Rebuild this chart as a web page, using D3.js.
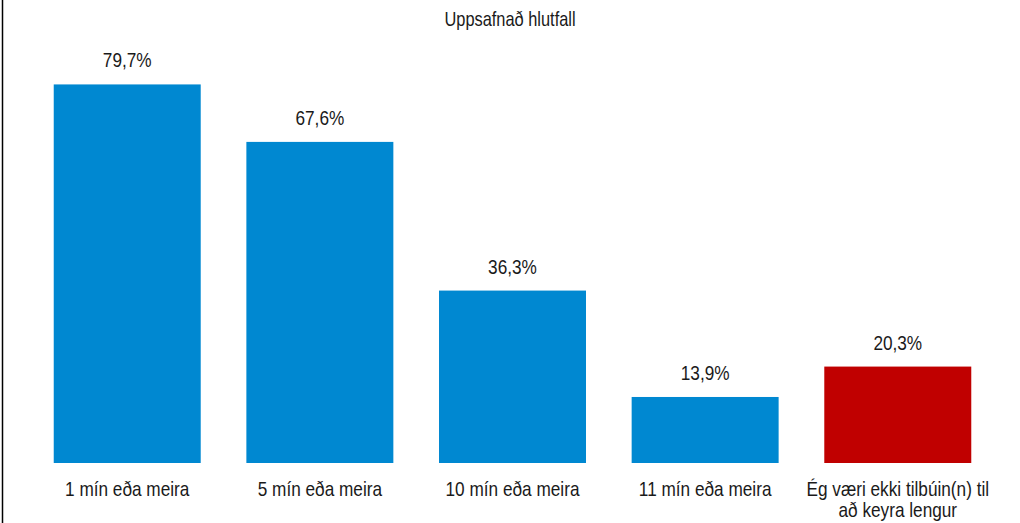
<!DOCTYPE html>
<html>
<head>
<meta charset="utf-8">
<script src="https://cdn.jsdelivr.net/npm/d3@7"></script>
<style>
  body { margin: 0; background: #fff; }
  text { font-family: "Liberation Sans", Arial, sans-serif; fill: #1a1a1a; }
</style>
</head>
<body>
<div id="chart"></div>
<script>
var title = "Uppsafnað hlutfall";
var categories = ["1 mín eða meira", "5 mín eða meira", "10 mín eða meira", "11 mín eða meira", "Ég væri ekki tilbúin(n) til að keyra lengur"];
var values = [79.7, 67.6, 36.3, 13.9, 20.3];
var colors = ["#0088d1", "#0088d1", "#0088d1", "#0088d1", "#c00000"];

var width = 1020, height = 523;
var baseline = 463;
var squeeze = 0.82; // the reference font is narrow, so compress the text horizontally

var svg = d3.select("#chart")
    .append("svg")
    .attr("width", width)
    .attr("height", height);

// left frame line
svg.append("line")
    .attr("x1", 2.5).attr("x2", 2.5)
    .attr("y1", 0).attr("y2", height)
    .attr("stroke", "#000")
    .attr("stroke-width", 1.5);

var x = d3.scaleBand()
    .domain(categories)
    .range([31, 994])
    .paddingInner(0.237)
    .paddingOuter(0.118);

var y = d3.scaleLinear()
    .domain([0, 100])
    .range([baseline, baseline - 475]);

function place(px, py) {
    return "translate(" + px + "," + py + ") scale(" + squeeze + ",1)";
}

svg.append("text")
    .attr("transform", place(510, 26))
    .attr("text-anchor", "middle")
    .style("font-size", "20px")
    .text(title);

svg.selectAll(".bar")
    .data(values)
    .enter().append("rect")
    .attr("class", "bar")
    .attr("x", function(d, i) { return x(categories[i]); })
    .attr("width", x.bandwidth())
    .attr("y", function(d) { return y(d); })
    .attr("height", function(d) { return baseline - y(d); })
    .attr("fill", function(d, i) { return colors[i]; });

svg.selectAll(".val")
    .data(values)
    .enter().append("text")
    .attr("class", "val")
    .attr("transform", function(d, i) { return place(x(categories[i]) + x.bandwidth() / 2, y(d) - 17); })
    .attr("text-anchor", "middle")
    .style("font-size", "21px")
    .text(function(d) { return d.toFixed(1).replace(".", ",") + "%"; });

// category labels, wrapped to the band step
var labels = svg.selectAll(".cat")
    .data(categories)
    .enter().append("text")
    .attr("class", "cat")
    .attr("text-anchor", "middle")
    .style("font-size", "21px")
    .attr("transform", function(d) { return place(x(d) + x.bandwidth() / 2, 496); });

labels.each(function(d) {
    var t = d3.select(this);
    var words = d.split(" "), line = [];
    var tspan = t.append("tspan").attr("x", 0).attr("dy", 0);
    words.forEach(function(w) {
        line.push(w);
        tspan.text(line.join(" "));
        if (tspan.node().getComputedTextLength() * squeeze > 190 && line.length > 1) {
            line.pop();
            tspan.text(line.join(" "));
            line = [w];
            tspan = t.append("tspan").attr("x", 0).attr("dy", 21).text(w);
        }
    });
});
</script>
</body>
</html>
